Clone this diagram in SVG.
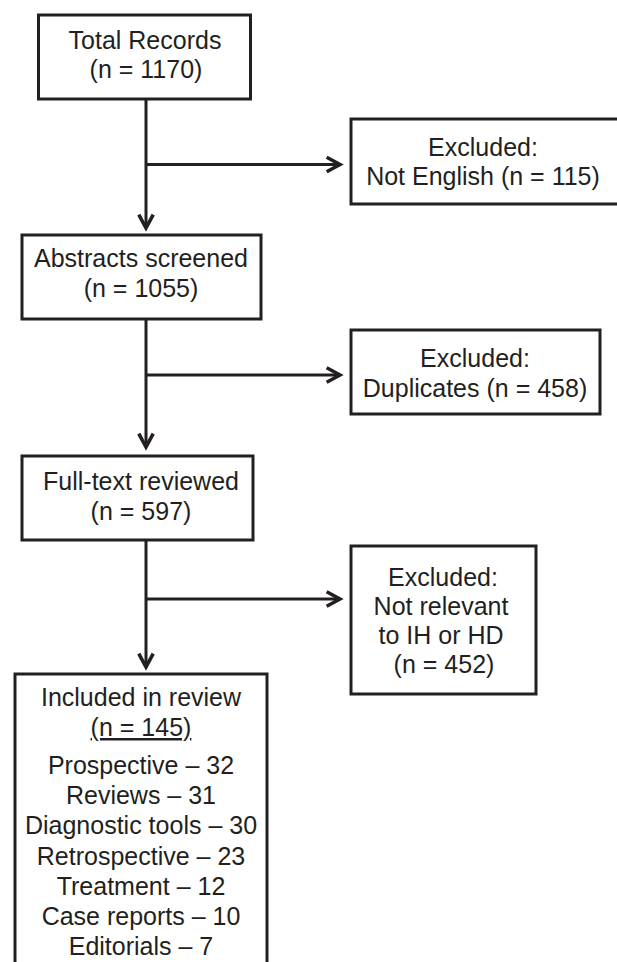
<svg xmlns="http://www.w3.org/2000/svg" width="617" height="962" viewBox="0 0 617 962">
<defs>
<style>
.box{fill:#fff;stroke:#231f20;stroke-width:3}
.t{font-family:"Liberation Sans",Arial,sans-serif;font-size:25px;fill:#231f20;text-anchor:middle}
.c{stroke:#231f20;stroke-width:3;fill:none}
</style>
<marker id="ah" markerUnits="userSpaceOnUse" markerWidth="20" markerHeight="20" viewBox="-2 -2 18 18" refX="12" refY="6.5" orient="auto">
<path d="M0,0 L12,6.5 L0,13" fill="none" stroke="#231f20" stroke-width="3.2"/>
</marker>
</defs>
<rect width="617" height="962" fill="#fff"/>
<g id="connectors">
<line class="c" x1="146" y1="99" x2="146" y2="228" marker-end="url(#ah)"/>
<line class="c" x1="146" y1="164.5" x2="340" y2="164.5" marker-end="url(#ah)"/>
<line class="c" x1="146" y1="319" x2="146" y2="447" marker-end="url(#ah)"/>
<line class="c" x1="146" y1="375" x2="340" y2="375" marker-end="url(#ah)"/>
<line class="c" x1="146" y1="540" x2="146" y2="667" marker-end="url(#ah)"/>
<line class="c" x1="146" y1="599" x2="340" y2="599" marker-end="url(#ah)"/>
</g>
<g id="total">
<rect class="box" x="38.5" y="15" width="212" height="84"/>
<text class="t" x="145" y="49">Total Records</text>
<text class="t" x="146" y="78">(n = 1170)</text>
</g>
<g id="excluded1">
<rect class="box" x="351" y="119" width="270" height="85"/>
<text class="t" x="483" y="156">Excluded:</text>
<text class="t" x="483" y="185">Not English (n = 115)</text>
</g>
<g id="abstracts">
<rect class="box" x="22" y="235" width="239" height="84"/>
<text class="t" x="141" y="267">Abstracts screened</text>
<text class="t" x="141" y="297">(n = 1055)</text>
</g>
<g id="excluded2">
<rect class="box" x="351" y="330" width="249" height="84"/>
<text class="t" x="475" y="367">Excluded:</text>
<text class="t" x="475" y="397">Duplicates (n = 458)</text>
</g>
<g id="fulltext">
<rect class="box" x="22" y="456" width="231" height="84"/>
<text class="t" x="141" y="490">Full-text reviewed</text>
<text class="t" x="141" y="520">(n = 597)</text>
</g>
<g id="excluded3">
<rect class="box" x="351" y="546" width="185" height="148"/>
<text class="t" x="443" y="586">Excluded:</text>
<text class="t" x="441" y="615">Not relevant</text>
<text class="t" x="441" y="644">to IH or HD</text>
<text class="t" x="444" y="673">(n = 452)</text>
</g>
<g id="included">
<rect class="box" x="15" y="674" width="252" height="320"/>
<text class="t" x="141" y="706">Included in review</text>
<text class="t" x="141" y="736" text-decoration="underline">(n = 145)</text>
<text class="t" x="141" y="774">Prospective – 32</text>
<text class="t" x="141" y="804">Reviews – 31</text>
<text class="t" x="141" y="834">Diagnostic tools – 30</text>
<text class="t" x="141" y="865">Retrospective – 23</text>
<text class="t" x="141" y="895">Treatment – 12</text>
<text class="t" x="141" y="925">Case reports – 10</text>
<text class="t" x="141" y="955">Editorials – 7</text>
</g>
</svg>
